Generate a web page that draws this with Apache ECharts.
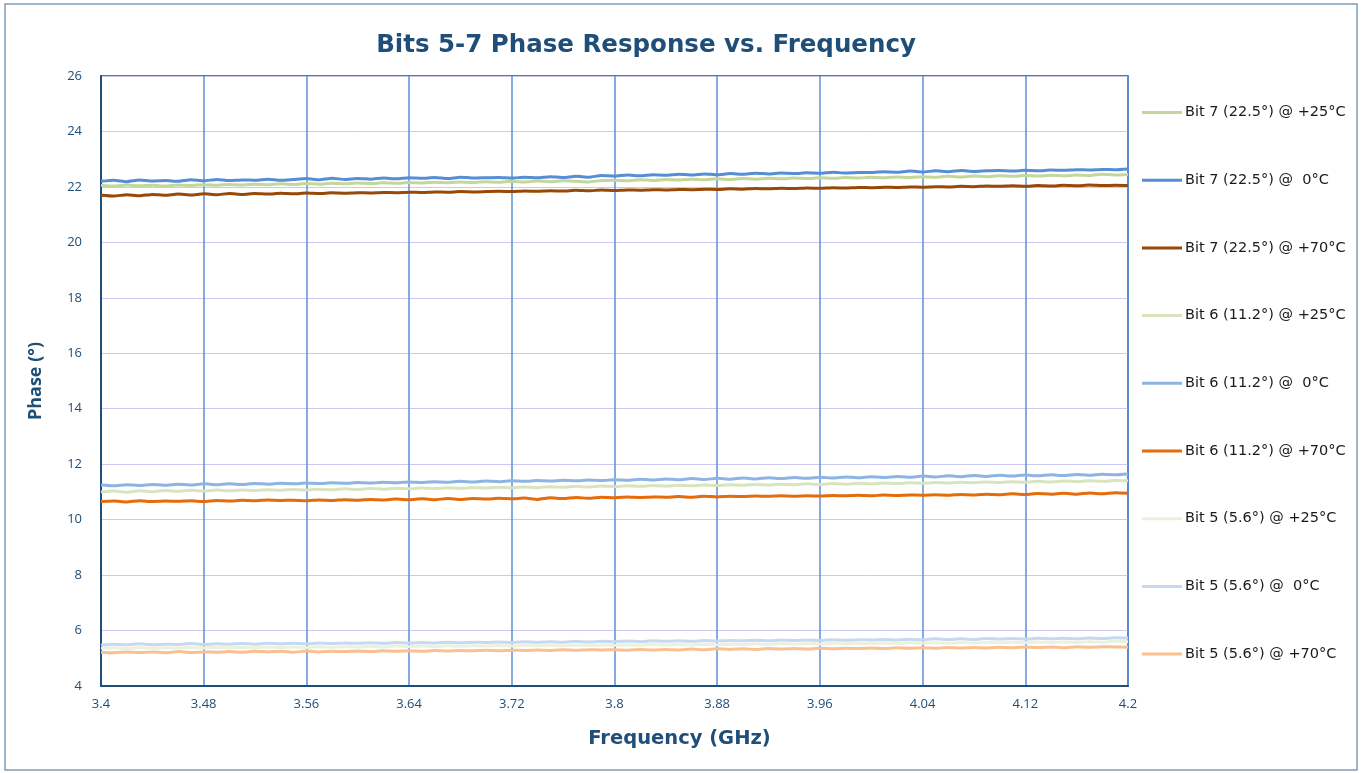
<!DOCTYPE html>
<html>
<head>
<meta charset="utf-8">
<script src="https://cdn.jsdelivr.net/npm/echarts@6/dist/echarts.min.js"></script>
<style>
html,body{margin:0;padding:0;background:#fff;}
#chart{width:1363px;height:773px;}
</style>
</head>
<body>
<div id="chart"></div>
<script>
var freq = [3.40,3.41,3.42,3.43,3.44,3.45,3.46,3.47,3.48,3.49,
3.50,3.51,3.52,3.53,3.54,3.55,3.56,3.57,3.58,3.59,
3.60,3.61,3.62,3.63,3.64,3.65,3.66,3.67,3.68,3.69,
3.70,3.71,3.72,3.73,3.74,3.75,3.76,3.77,3.78,3.79,
3.80,3.81,3.82,3.83,3.84,3.85,3.86,3.87,3.88,3.89,
3.90,3.91,3.92,3.93,3.94,3.95,3.96,3.97,3.98,3.99,
4.00,4.01,4.02,4.03,4.04,4.05,4.06,4.07,4.08,4.09,
4.10,4.11,4.12,4.13,4.14,4.15,4.16,4.17,4.18,4.19,
4.20];

var seriesNames = [
  'Bit 7 (22.5°) @ +25°C',
  'Bit 7 (22.5°) @  0°C',
  'Bit 7 (22.5°) @ +70°C',
  'Bit 6 (11.2°) @ +25°C',
  'Bit 6 (11.2°) @  0°C',
  'Bit 6 (11.2°) @ +70°C',
  'Bit 5 (5.6°) @ +25°C',
  'Bit 5 (5.6°) @  0°C',
  'Bit 5 (5.6°) @ +70°C'
];

var bit7_25 = [22.05,22.03,22.07,22.04,22.06,22.03,22.07,22.05,22.08,22.06,
22.09,22.07,22.10,22.08,22.11,22.09,22.12,22.10,22.13,22.11,
22.14,22.12,22.15,22.13,22.16,22.14,22.17,22.15,22.18,22.16,
22.19,22.17,22.20,22.18,22.21,22.19,22.22,22.20,22.18,22.23,
22.24,22.22,22.26,22.23,22.27,22.25,22.28,22.26,22.29,22.27,
22.30,22.28,22.31,22.29,22.32,22.30,22.33,22.31,22.34,22.32,
22.35,22.33,22.36,22.34,22.37,22.35,22.38,22.36,22.39,22.37,
22.40,22.38,22.41,22.39,22.42,22.40,22.43,22.41,22.46,22.43,
22.45];

var bit7_0 = [22.20,22.24,22.19,22.25,22.21,22.23,22.20,22.26,22.22,22.27,
22.23,22.25,22.24,22.28,22.24,22.27,22.30,22.26,22.31,22.27,
22.30,22.28,22.32,22.29,22.33,22.31,22.34,22.30,22.35,22.32,
22.33,22.34,22.32,22.35,22.33,22.37,22.34,22.38,22.35,22.41,
22.39,22.43,22.40,22.44,22.42,22.46,22.43,22.47,22.44,22.48,
22.46,22.49,22.47,22.50,22.48,22.51,22.49,22.53,22.50,22.52,
22.52,22.55,22.53,22.57,22.54,22.58,22.55,22.59,22.56,22.58,
22.59,22.57,22.60,22.58,22.61,22.60,22.62,22.61,22.63,22.62,
22.65];

var bit7_70 = [21.70,21.67,21.72,21.68,21.73,21.70,21.74,21.71,21.75,21.72,
21.76,21.73,21.76,21.74,21.77,21.75,21.78,21.76,21.79,21.77,
21.79,21.78,21.80,21.79,21.81,21.80,21.82,21.81,21.83,21.82,
21.83,21.84,21.83,21.85,21.84,21.86,21.85,21.88,21.86,21.89,
21.87,21.89,21.88,21.90,21.89,21.91,21.90,21.92,21.91,21.93,
21.92,21.94,21.93,21.95,21.94,21.96,21.95,21.97,21.96,21.98,
21.97,21.99,21.98,22.00,21.99,22.01,22.00,22.02,22.01,22.03,
22.02,22.04,22.02,22.05,22.03,22.06,22.04,22.07,22.05,22.06,
22.05];

var bit6_25 = [11.00,11.03,10.99,11.04,11.01,11.05,11.02,11.06,11.03,11.07,
11.04,11.07,11.05,11.08,11.06,11.09,11.07,11.10,11.08,11.11,
11.09,11.12,11.10,11.13,11.11,11.14,11.12,11.15,11.13,11.16,
11.14,11.17,11.15,11.18,11.16,11.19,11.17,11.20,11.18,11.21,
11.19,11.22,11.20,11.23,11.21,11.24,11.22,11.25,11.23,11.26,
11.24,11.27,11.25,11.28,11.26,11.29,11.27,11.30,11.28,11.31,
11.29,11.32,11.30,11.33,11.31,11.34,11.32,11.35,11.33,11.36,
11.34,11.37,11.35,11.38,11.36,11.39,11.37,11.40,11.38,11.41,
11.40];

var bit6_0 = [11.25,11.22,11.26,11.23,11.27,11.24,11.28,11.25,11.29,11.26,
11.29,11.27,11.30,11.28,11.31,11.29,11.32,11.30,11.33,11.31,
11.34,11.32,11.35,11.33,11.36,11.34,11.37,11.35,11.38,11.36,
11.39,11.37,11.40,11.38,11.41,11.39,11.42,11.40,11.43,11.41,
11.44,11.42,11.46,11.43,11.47,11.44,11.48,11.45,11.49,11.46,
11.50,11.47,11.51,11.48,11.52,11.49,11.53,11.50,11.54,11.51,
11.55,11.52,11.56,11.53,11.57,11.54,11.58,11.55,11.59,11.56,
11.60,11.57,11.61,11.58,11.62,11.59,11.63,11.60,11.64,11.62,
11.65];

var bit6_70 = [10.65,10.67,10.64,10.68,10.65,10.67,10.66,10.68,10.65,10.69,
10.67,10.70,10.68,10.71,10.69,10.70,10.68,10.71,10.69,10.72,
10.70,10.73,10.71,10.74,10.72,10.75,10.72,10.76,10.73,10.76,
10.74,10.77,10.75,10.78,10.73,10.79,10.76,10.80,10.77,10.81,
10.79,10.82,10.80,10.82,10.81,10.83,10.81,10.84,10.82,10.84,
10.83,10.85,10.84,10.86,10.84,10.86,10.85,10.87,10.86,10.88,
10.86,10.89,10.87,10.89,10.88,10.90,10.88,10.91,10.89,10.92,
10.90,10.93,10.91,10.94,10.92,10.95,10.92,10.96,10.93,10.97,
10.95];

var bit5_25 = [5.36,5.38,5.35,5.39,5.36,5.38,5.37,5.39,5.37,5.40,
5.38,5.40,5.38,5.41,5.39,5.41,5.39,5.42,5.40,5.42,
5.41,5.43,5.41,5.44,5.42,5.44,5.42,5.45,5.43,5.45,
5.44,5.46,5.44,5.47,5.45,5.47,5.45,5.48,5.46,5.48,
5.47,5.49,5.47,5.50,5.48,5.50,5.48,5.51,5.49,5.51,
5.50,5.52,5.50,5.53,5.51,5.53,5.51,5.54,5.52,5.54,
5.53,5.55,5.53,5.56,5.54,5.56,5.54,5.57,5.55,5.57,
5.56,5.58,5.56,5.59,5.57,5.59,5.57,5.60,5.58,5.61,
5.60];

var bit5_0 = [5.48,5.51,5.49,5.52,5.49,5.51,5.50,5.53,5.50,5.52,
5.51,5.53,5.51,5.54,5.52,5.54,5.52,5.55,5.53,5.55,
5.54,5.56,5.54,5.57,5.55,5.57,5.55,5.58,5.56,5.58,
5.57,5.59,5.57,5.60,5.58,5.60,5.58,5.61,5.59,5.61,
5.60,5.62,5.60,5.63,5.61,5.63,5.61,5.64,5.62,5.64,
5.63,5.65,5.63,5.66,5.64,5.66,5.64,5.67,5.65,5.67,
5.66,5.68,5.66,5.69,5.67,5.70,5.68,5.70,5.68,5.71,
5.69,5.71,5.69,5.72,5.70,5.72,5.70,5.73,5.71,5.74,
5.73];

var bit5_70 = [5.22,5.20,5.23,5.21,5.23,5.20,5.24,5.21,5.23,5.22,
5.24,5.22,5.25,5.23,5.25,5.22,5.26,5.23,5.25,5.24,
5.26,5.24,5.27,5.25,5.27,5.25,5.28,5.26,5.28,5.27,
5.29,5.27,5.29,5.28,5.30,5.28,5.31,5.29,5.31,5.30,
5.31,5.29,5.32,5.30,5.32,5.30,5.33,5.31,5.34,5.32,
5.34,5.32,5.35,5.33,5.35,5.33,5.36,5.34,5.36,5.35,
5.37,5.35,5.38,5.36,5.38,5.36,5.39,5.37,5.39,5.37,
5.40,5.38,5.41,5.39,5.41,5.38,5.42,5.40,5.42,5.41,
5.40];

var seriesData = [bit7_25, bit7_0, bit7_70, bit6_25, bit6_0, bit6_70, bit5_25, bit5_0, bit5_70];
var seriesColors = ['#c3d69b','#558ed5','#984807','#d7e4bd','#8eb4e3','#e46c0a','#ebf1de','#c6d9f1','#fac090'];

var chart = echarts.init(document.getElementById('chart'), null, {renderer:'canvas'});
var axisBlue = '#1f4e79';
var fontFam = '"Open Sans", "Noto Sans", sans-serif';
var wideFam = '"DejaVu Sans", "Open Sans", sans-serif';

var series = seriesData.map(function(d, i){
  return {
    name: seriesNames[i],
    type: 'line',
    data: d,
    symbol: 'none',
    smooth: 0.2,
    lineStyle: {width: 3, color: seriesColors[i]},
    itemStyle: {color: seriesColors[i]},
    z: 3,
    animation: false
  };
});

chart.setOption({
  animation: false,
  backgroundColor: '#ffffff',
  title: {
    text: 'Bits 5-7 Phase Response vs. Frequency',
    left: 641,
    textAlign: 'center',
    top: 28,
    textStyle: {fontFamily: wideFam, fontSize: 24.5, fontWeight: 'bold', color: axisBlue}
  },
  graphic: [{
    type: 'rect',
    shape: {x: 5, y: 4, width: 1352, height: 766},
    style: {fill: 'none', stroke: '#7f9db9', lineWidth: 1.5},
    silent: true
  }],
  legend: {
    orient: 'vertical',
    left: 1142,
    top: 105,
    padding: 0,
    icon: 'rect',
    itemWidth: 40,
    itemHeight: 3,
    itemGap: 52.7,
    textStyle: {fontFamily: wideFam, fontSize: 14.5, color: '#1a1a1a', padding: [0, 0, 0, -2]},
    data: seriesNames
  },
  grid: {
    left: 101, right: 235, top: 76, bottom: 87,
    show: true, borderColor: axisBlue, borderWidth: 1.5,
    containLabel: false
  },
  xAxis: {
    type: 'category',
    data: freq,
    boundaryGap: false,
    name: 'Frequency (GHz)',
    nameLocation: 'middle',
    nameGap: 43,
    nameTextStyle: {fontFamily: wideFam, fontSize: 19.5, fontWeight: 'bold', color: axisBlue, padding: [0, 0, 0, 130]},
    axisLine: {show: true, lineStyle: {color: axisBlue, width: 2}},
    axisTick: {show: false},
    axisLabel: {interval: 7, color: axisBlue, fontFamily: fontFam, fontSize: 13, margin: 12},
    splitLine: {show: true, interval: 7, lineStyle: {color: '#5b8fd9', width: 1.5}}
  },
  yAxis: {
    type: 'value',
    min: 4, max: 26, interval: 2,
    name: 'Phase (°)',
    nameLocation: 'middle',
    nameGap: 56,
    nameTextStyle: {fontFamily: fontFam, fontSize: 18, fontWeight: 'bold', color: axisBlue},
    axisLine: {show: true, lineStyle: {color: axisBlue, width: 2}},
    axisTick: {show: false},
    axisLabel: {color: axisBlue, fontFamily: fontFam, fontSize: 13, margin: 19},
    splitLine: {show: true, lineStyle: {color: '#c9c9f2', width: 1}}
  },
  series: series
});
</script>
</body>
</html>
